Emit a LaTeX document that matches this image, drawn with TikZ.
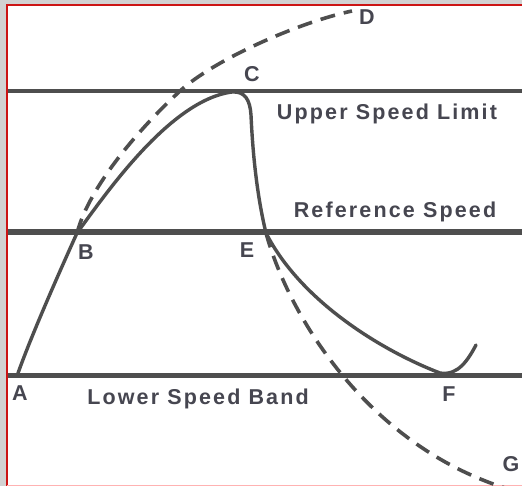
\documentclass[tikz,border=0pt]{standalone}
\usepackage{fontspec}
\usetikzlibrary{positioning}
\newfontfamily\lblfont[LetterSpace=10]{Liberation Sans}
\definecolor{lineGray}{RGB}{78,78,78}
\definecolor{textGray}{RGB}{70,70,80}
\definecolor{frameRed}{RGB}{204,20,20}
\begin{document}
\begin{tikzpicture}[x=1pt,y=-1pt,
    speedline/.style={lineGray,line width=4pt},
    curve/.style={lineGray,line width=3.4pt,line cap=round,line join=round},
    dashcurve/.style={lineGray,line width=3.6pt,dash pattern=on 15pt off 9pt},
    lbl/.style={text=textGray,inner sep=0pt,font={\lblfont\bfseries\fontsize{21.5}{24}\selectfont}}
  ]
    \useasboundingbox (0,0) rectangle (522,486);
    % frame
    \fill[gray!35] (0,0) rectangle (522,486);
    \fill[white] (7,5) rectangle (522,486);
    \draw[frameRed,line width=1.8pt] (7,486) -- (7,5) -- (522,5);
    \draw[red!30,line width=1pt] (7,485.5) -- (522,485.5);
    % speed levels
    \coordinate (upW) at (8,91);   \coordinate (upE) at (522,91);
    \coordinate (refW) at (8,232.5); \coordinate (refE) at (522,232.5);
    \coordinate (lowW) at (8,375.5); \coordinate (lowE) at (522,375.5);
    \draw[speedline] (upW) -- (upE);
    \draw[speedline,line width=6pt] (refW) -- (refE);
    \draw[speedline,line width=4.5pt] (lowW) -- (lowE);
    % points of the curves
    \coordinate (A) at (17,376);
    \coordinate (B) at (77,233);
    \coordinate (C) at (232,92);
    \coordinate (D) at (352,11);
    \coordinate (E) at (266,233);
    \coordinate (F) at (440,373);
    \coordinate (Fend) at (476,345);
    \coordinate (G) at (505,488);
    \coordinate (X) at (180,91);
    % actual speed
    \draw[curve] (A) .. controls (31,336) and (59,273) .. (B)
      .. controls (105,195) and (170,100) .. (C)
      .. controls (245,91) and (250,100) .. (251,115)
      .. controls (253,160) and (258,200) .. (E)
      .. controls (300,300) and (380,350) .. (F)
      .. controls (458,376) and (468,360) .. (Fend);
    % uncontrolled speed
    \draw[dashcurve] (B) .. controls (90,185) and (140,128) .. (X)
      .. controls (215,59) and (300,22) .. (D);
    \draw[dashcurve] (E) .. controls (290,320) and (370,445) .. (G);
    % labels
    \node[lbl] (lblA) at (20,393) {A};
    \node[lbl] (lblB) at (86,252) {B};
    \node[lbl] (lblC) at (252,74) {C};
    \node[lbl] (lblD) at (367,17) {D};
    \node[lbl] (lblE) at (247,250) {E};
    \node[lbl] (lblF) at (449,394) {F};
    \node[lbl] (lblG) at (511,464) {G};
    \node[lbl] (upper) at (387,114) {Upper Speed Limit};
    \node[lbl] (refer) at (395,212) {Reference Speed};
    \node[lbl] (lower) at (198,399) {Lower Speed Band};
  \end{tikzpicture}
\end{document}
